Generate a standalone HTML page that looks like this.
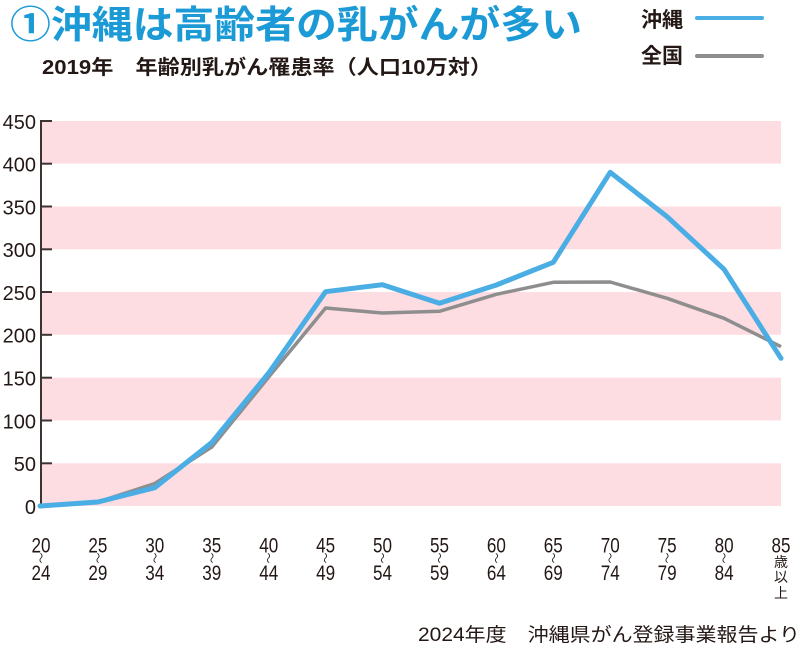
<!DOCTYPE html>
<html><head><meta charset="utf-8"><style>
html,body{margin:0;padding:0;background:#fff;}
svg{display:block;}
</style></head><body>
<svg width="800" height="646" viewBox="0 0 800 646" xmlns="http://www.w3.org/2000/svg">
<g font-family="'Liberation Sans','Noto Sans CJK JP',sans-serif">
<!-- title -->
<text x="10" y="38" font-size="38" font-weight="bold" fill="#1b9ad6" textLength="572" lengthAdjust="spacingAndGlyphs">①沖縄は高齢者の乳がんが多い</text>
<text x="42" y="74" font-size="20" font-weight="bold" fill="#231815" textLength="450" lengthAdjust="spacingAndGlyphs">2019年　年齢別乳がん罹患率（人口10万対）</text>
<!-- legend -->
<text x="641" y="27" font-size="21" font-weight="bold" fill="#231815">沖縄</text>
<line x1="697" y1="18" x2="762" y2="18" stroke="#4aaee4" stroke-width="4" stroke-linecap="round"/>
<text x="641" y="63" font-size="21" font-weight="bold" fill="#231815">全国</text>
<line x1="697" y1="56" x2="762" y2="56" stroke="#8e8e8e" stroke-width="4" stroke-linecap="round"/>
<!-- bands -->
<g fill="#fddce2">
<rect x="42" y="121" width="739" height="42.6"/>
<rect x="42" y="206.5" width="739" height="42.8"/>
<rect x="42" y="292" width="739" height="42.8"/>
<rect x="42" y="377.7" width="739" height="42.8"/>
<rect x="42" y="463.3" width="739" height="42.7"/>
</g>
<!-- axis -->
<line x1="41" y1="120" x2="41" y2="507" stroke="#3b3431" stroke-width="2"/>
<g stroke="#3b3431" stroke-width="2">
<line x1="41" y1="121" x2="52" y2="121"/>
<line x1="41" y1="163.7" x2="52" y2="163.7"/>
<line x1="41" y1="206.5" x2="52" y2="206.5"/>
<line x1="41" y1="249.3" x2="52" y2="249.3"/>
<line x1="41" y1="292" x2="52" y2="292"/>
<line x1="41" y1="334.8" x2="52" y2="334.8"/>
<line x1="41" y1="377.7" x2="52" y2="377.7"/>
<line x1="41" y1="420.5" x2="52" y2="420.5"/>
<line x1="41" y1="463.3" x2="52" y2="463.3"/>
</g>
<g font-size="20" fill="#231815" text-anchor="end">
<text x="36" y="129">450</text>
<text x="36" y="171.5">400</text>
<text x="36" y="214.5">350</text>
<text x="36" y="257">300</text>
<text x="36" y="300">250</text>
<text x="36" y="342.5">200</text>
<text x="36" y="385.5">150</text>
<text x="36" y="428.5">100</text>
<text x="36" y="471">50</text>
<text x="36" y="514">0</text>
</g>
<!-- series -->
<polyline fill="none" stroke="#8e8e8e" stroke-width="3.5" stroke-linejoin="round" points="41,506 97.9,502 154.8,483.5 211.8,447 268.7,377 325.6,308 382.5,313 439.5,311.3 496.4,294.3 553.3,282.3 610.2,282 667.1,298.3 724.1,318.3 781,346.7"/>
<polyline fill="none" stroke="#4aaee4" stroke-width="5" stroke-linejoin="round" stroke-linecap="round" points="40,506 97.9,502 154.8,487.7 211.8,442.5 268.7,373 325.6,291.7 382.5,284.7 439.5,303.3 496.4,285 553.3,262.3 610.2,172.3 667.1,216.7 724.1,269.3 781,358.3"/>
<!-- x labels -->
<g font-size="21" fill="#231815" text-anchor="middle">
<text x="41" y="552.5" textLength="19" lengthAdjust="spacingAndGlyphs">20</text><text x="41" y="580" textLength="19" lengthAdjust="spacingAndGlyphs">24</text>
<text x="97.9" y="552.5" textLength="19" lengthAdjust="spacingAndGlyphs">25</text><text x="97.9" y="580" textLength="19" lengthAdjust="spacingAndGlyphs">29</text>
<text x="154.8" y="552.5" textLength="19" lengthAdjust="spacingAndGlyphs">30</text><text x="154.8" y="580" textLength="19" lengthAdjust="spacingAndGlyphs">34</text>
<text x="211.8" y="552.5" textLength="19" lengthAdjust="spacingAndGlyphs">35</text><text x="211.8" y="580" textLength="19" lengthAdjust="spacingAndGlyphs">39</text>
<text x="268.7" y="552.5" textLength="19" lengthAdjust="spacingAndGlyphs">40</text><text x="268.7" y="580" textLength="19" lengthAdjust="spacingAndGlyphs">44</text>
<text x="325.6" y="552.5" textLength="19" lengthAdjust="spacingAndGlyphs">45</text><text x="325.6" y="580" textLength="19" lengthAdjust="spacingAndGlyphs">49</text>
<text x="382.5" y="552.5" textLength="19" lengthAdjust="spacingAndGlyphs">50</text><text x="382.5" y="580" textLength="19" lengthAdjust="spacingAndGlyphs">54</text>
<text x="439.5" y="552.5" textLength="19" lengthAdjust="spacingAndGlyphs">55</text><text x="439.5" y="580" textLength="19" lengthAdjust="spacingAndGlyphs">59</text>
<text x="496.4" y="552.5" textLength="19" lengthAdjust="spacingAndGlyphs">60</text><text x="496.4" y="580" textLength="19" lengthAdjust="spacingAndGlyphs">64</text>
<text x="553.3" y="552.5" textLength="19" lengthAdjust="spacingAndGlyphs">65</text><text x="553.3" y="580" textLength="19" lengthAdjust="spacingAndGlyphs">69</text>
<text x="610.2" y="552.5" textLength="19" lengthAdjust="spacingAndGlyphs">70</text><text x="610.2" y="580" textLength="19" lengthAdjust="spacingAndGlyphs">74</text>
<text x="667.1" y="552.5" textLength="19" lengthAdjust="spacingAndGlyphs">75</text><text x="667.1" y="580" textLength="19" lengthAdjust="spacingAndGlyphs">79</text>
<text x="724.1" y="552.5" textLength="19" lengthAdjust="spacingAndGlyphs">80</text><text x="724.1" y="580" textLength="19" lengthAdjust="spacingAndGlyphs">84</text>
<text x="781" y="552.5" textLength="19" lengthAdjust="spacingAndGlyphs">85</text>
</g>
<g font-size="11" fill="#231815" text-anchor="middle">
<text transform="translate(41,558) rotate(90)" y="4">〜</text>
<text transform="translate(97.9,558) rotate(90)" y="4">〜</text>
<text transform="translate(154.8,558) rotate(90)" y="4">〜</text>
<text transform="translate(211.8,558) rotate(90)" y="4">〜</text>
<text transform="translate(268.7,558) rotate(90)" y="4">〜</text>
<text transform="translate(325.6,558) rotate(90)" y="4">〜</text>
<text transform="translate(382.5,558) rotate(90)" y="4">〜</text>
<text transform="translate(439.5,558) rotate(90)" y="4">〜</text>
<text transform="translate(496.4,558) rotate(90)" y="4">〜</text>
<text transform="translate(553.3,558) rotate(90)" y="4">〜</text>
<text transform="translate(610.2,558) rotate(90)" y="4">〜</text>
<text transform="translate(667.1,558) rotate(90)" y="4">〜</text>
<text transform="translate(724.1,558) rotate(90)" y="4">〜</text>
</g>
<g font-size="14" fill="#231815" text-anchor="middle">
<text x="781" y="567">歳</text>
<text x="781" y="582">以</text>
<text x="781" y="598">上</text>
</g>
<!-- footer -->
<text x="418" y="641" font-size="19" fill="#231815" textLength="382" lengthAdjust="spacingAndGlyphs">2024年度　沖縄県がん登録事業報告より</text>
</g>
</svg>
</body></html>
